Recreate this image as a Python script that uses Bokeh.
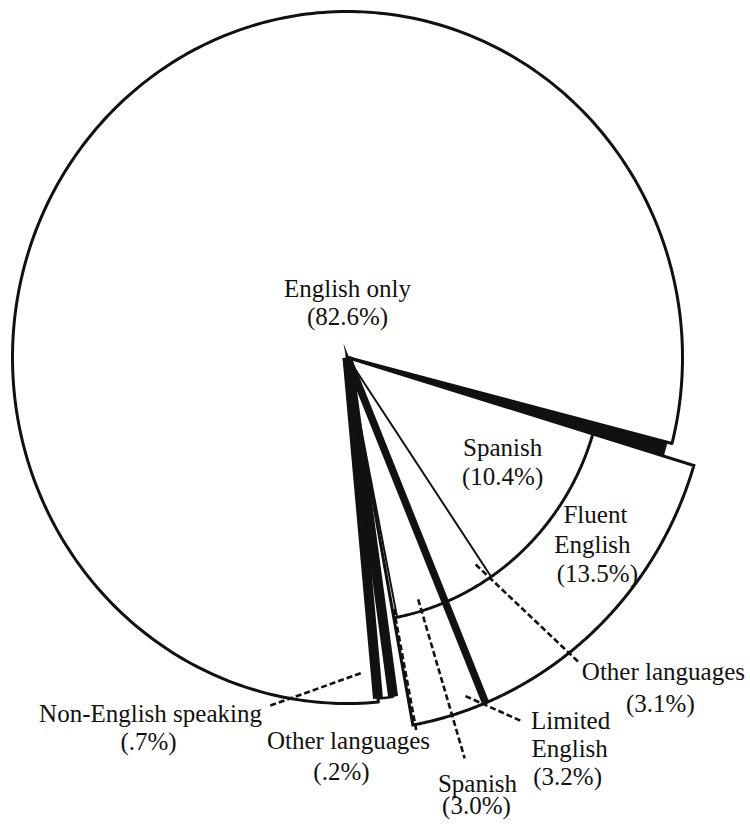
import numpy as np
from bokeh.plotting import figure
from bokeh.models import Range1d, ColumnDataSource
from bokeh.core.properties import value
from bokeh.embed import file_html
from bokeh.resources import INLINE

# ---------------- data ----------------
groups = ["English only", "Fluent English", "Limited English", "Non-English speaking"]
group_pct = [82.6, 13.5, 3.2, 0.7]
fluent_langs = ["Spanish", "Other languages"]
fluent_pct = [10.4, 3.1]
limited_langs = ["Spanish", "Other languages"]
limited_pct = [3.0, 0.2]

# ---------------- layout / style ----------------
DEG_PER_PCT = 3.76      # angular scale of the exploded (non-English-only) part
FLUENT_START = -16.8    # degrees; slices run clockwise from here
SEP1 = 2.4              # black wedge between "English only" and the exploded part
NE_GAP = 2.5            # gap before the non-English slice
R_MAIN, R_EXPL, R_INNER, R_NE = 1.0, 1.08, 0.765, 0.99
INK = "#111111"
FONT = value("Liberation Serif")
FS = value("25px")

def polar(r, a):
    a = np.radians(a)
    return r * np.cos(a), r * np.sin(a)

def sector(r, a0, a1, n=300):
    t = np.linspace(a0, a1, n)
    x, y = polar(r, t)
    return [0.0] + list(x) + [0.0], [0.0] + list(y) + [0.0]

def arc(r, a0, a1, n=300):
    t = np.linspace(a0, a1, n)
    x, y = polar(r, t)
    return list(x), list(y)

def fmt(pct):
    s = f"{pct:.1f}"
    if s.startswith("0"):
        s = s[1:]
    return f"({s}%)"

# angles derived from the shares
fl_start = FLUENT_START
fl_sp_end = fl_start - fluent_pct[0] * DEG_PER_PCT
fl_end = fl_start - group_pct[1] * DEG_PER_PCT
lim_sp_end = fl_end - limited_pct[0] * DEG_PER_PCT
lim_end = fl_end - group_pct[2] * DEG_PER_PCT
ne_start = lim_end - NE_GAP
ne_end = ne_start - group_pct[3] * DEG_PER_PCT
eng_a0 = fl_start + SEP1            # English-only spans the remainder of the circle
eng_a1 = ne_end + 360.0

# ---------------- figure ----------------
W, H = 745, 822
CX, CY, SX, SY = 347, 357, 335, 346
p = figure(width=W, height=H, output_backend="svg", toolbar_location=None,
           x_axis_type=None, y_axis_type=None, min_border=0,
           x_range=Range1d(-CX / SX, (W - CX) / SX),
           y_range=Range1d(CY / SY - H / SY, CY / SY))
p.grid.visible = False
p.outline_line_color = None
p.background_fill_color = "white"
p.border_fill_color = "white"

# English only
xs, ys = sector(R_MAIN, eng_a0, eng_a1)
p.patch(xs, ys, fill_color="white", line_color=INK, line_width=3, line_join="round")

# black separator wedge
xs, ys = sector(0.985, fl_start, eng_a0, 40)
p.patch(xs, ys, fill_color=INK, line_color=INK, line_width=1)

# Fluent English (exploded)
xs, ys = sector(R_EXPL, fl_start, fl_end)
p.patch(xs, ys, fill_color="white", line_color=INK, line_width=3, line_join="miter")

# Limited English (exploded)
xs, ys = sector(R_EXPL, fl_end, lim_end, 80)
p.patch(xs, ys, fill_color="white", line_color=INK, line_width=3, line_join="miter")

# inner arc (language split)
xs, ys = arc(R_INNER, fl_start, lim_end)
p.line(xs, ys, line_color=INK, line_width=3)

# thin radial lines at language boundaries
for a in (fl_sp_end, lim_sp_end):
    x1, y1 = polar(R_INNER, a)
    p.line([0, x1], [0, y1], line_color=INK, line_width=2)

# thick Fluent / Limited boundary
x1, y1 = polar(R_EXPL, fl_end)
p.line([0, x1], [0, y1], line_color=INK, line_width=7.5)

# Non-English speaking slice with heavy edges
xs, ys = sector(R_NE, ne_start, ne_end, 20)
p.patch(xs, ys, fill_color="white", line_color=INK, line_width=2.5)
for a in (ne_start, ne_end):
    x1, y1 = polar(R_NE, a)
    p.line([0, x1], [0, y1], line_color=INK, line_width=10, line_cap="butt")

# ---------------- leader lines ----------------
lim_sp_mid = (fl_end + lim_sp_end) / 2
lim_oth_mid = (lim_sp_end + lim_end) / 2
leaders = [
    ((0.73, lim_sp_mid), (1.21, lim_sp_mid)),       # Spanish (3.0%)
    ((0.74, lim_oth_mid), (1.105, lim_oth_mid)),    # Other languages (.2%)
    ((0.71, -57.4), (1.12, -51.9)),                 # Other languages (3.1%)
    ((1.04, -70.2), (1.17, -63.8)),                 # Limited English
    ((1.032, -102.9), (0.911, -87.0)),              # Non-English speaking
]
for (r0, a0), (r1, a1) in leaders:
    x0, y0 = polar(r0, a0)
    x1, y1 = polar(r1, a1)
    p.line([x0, x1], [y0, y1], line_color=INK, line_width=2.6, line_dash="6 3")

# ---------------- labels ----------------
lbl = [
    (groups[0], 0.0, 0.179), (fmt(group_pct[0]), 0.0, 0.098),
    (fluent_langs[0], 0.463, -0.280), (fmt(fluent_pct[0]), 0.463, -0.364),
    (groups[1].split()[0], 0.740, -0.474), (groups[1].split()[1], 0.731, -0.561),
    (fmt(group_pct[1]), 0.746, -0.645),
    (fluent_langs[1], 0.943, -0.928), (fmt(fluent_pct[1]), 0.934, -1.020),
    (groups[2].split()[0], 0.666, -1.069), (groups[2].split()[1], 0.663, -1.150),
    (fmt(group_pct[2]), 0.657, -1.231),
    (limited_langs[0], 0.388, -1.251), (fmt(limited_pct[0]), 0.385, -1.315),
    (limited_langs[1], 0.003, -1.127), (fmt(limited_pct[1]), -0.018, -1.217),
    (groups[3], -0.588, -1.049), (fmt(group_pct[3]), -0.594, -1.130),
]
src = ColumnDataSource(dict(text=[t for t, _, _ in lbl],
                            x=[x for _, x, _ in lbl],
                            y=[y for _, _, y in lbl]))
p.text(x="x", y="y", text="text", source=src, text_font=FONT, text_font_size=FS,
       text_align="center", text_baseline="alphabetic", text_color=INK,
       y_offset=-7)

open("out.html", "w").write(file_html(p, INLINE))
